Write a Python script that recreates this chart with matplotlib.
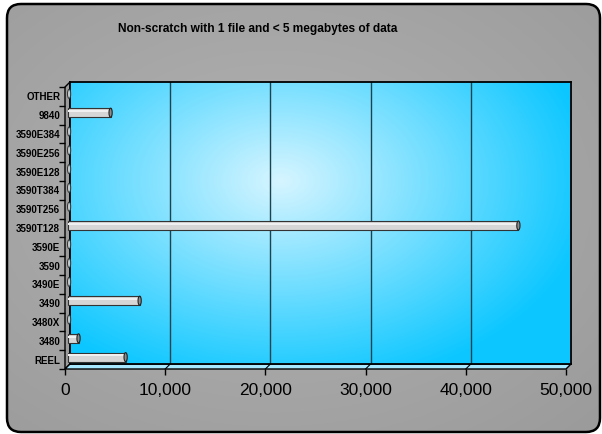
import numpy as np
import matplotlib
matplotlib.use("Agg")
import matplotlib.pyplot as plt
from matplotlib.patches import FancyBboxPatch, Polygon, Ellipse
from matplotlib.transforms import ScaledTranslation

plt.rcParams['font.family'] = ['Liberation Sans', 'DejaVu Sans']

title = "Non-scratch with 1 file and < 5 megabytes of data"
devices = ["REEL", "3480", "3480X", "3490", "3490E", "3590", "3590E",
           "3590T128", "3590T256", "3590T384", "3590E128", "3590E256",
           "3590E384", "9840", "OTHER"]
counts = [5800, 1100, 0, 7200, 0, 0, 0,
          45000, 0, 0, 0, 0, 0, 4300, 0]
xticks = [0, 10000, 20000, 30000, 40000, 50000]

W, H = 602, 434
fig = plt.figure(figsize=(W / 100, H / 100), dpi=100)
fig.patch.set_facecolor("white")

# pixel-space canvas for the panel, side wall and floor
bg = fig.add_axes([0, 0, 1, 1])
bg.set_xlim(0, W)
bg.set_ylim(H, 0)
bg.axis("off")

yy, xx = np.mgrid[0:1:200j, 0:1:200j]
r = np.sqrt((xx - 0.45) ** 2 + (yy - 0.45) ** 2)
g = np.clip(0.70 - 0.12 * r, 0.6, 0.72)
panel = FancyBboxPatch((7, 4), 593, 428, boxstyle="round,pad=0,rounding_size=14",
                       facecolor="none", edgecolor="black", lw=1.8, zorder=3)
img = bg.imshow(np.dstack([g, g, g]), extent=(7, 600, 432, 4), aspect="auto", zorder=1)
bg.add_patch(panel)
img.set_clip_path(panel)

# left side wall and floor of the 3-D plot box
bg.add_patch(Polygon([(65, 87), (70, 82), (70, 364), (65, 369)], closed=True,
                     facecolor="#9c9c9c", edgecolor="black", lw=1, zorder=2))
bg.add_patch(Polygon([(65, 369), (70, 364), (571, 364), (566, 369)], closed=True,
                     facecolor="#a8e8ff", edgecolor="black", lw=1, zorder=2))
for k in range(1, 5):
    bg.plot([65 + k * 100.2, 70 + k * 100.2], [369, 364], color="black", lw=0.8, zorder=2)

# back wall with radial blue gradient
wall = fig.add_axes([70 / W, 1 - 364 / H, 501 / W, 282 / H])
wall.set_xlim(0, 50000)
wall.set_ylim(0, 1)
r = np.sqrt(((xx - 0.42) * 1.2) ** 2 + (yy - 0.35) ** 2)
t = np.clip(r / 0.75, 0, 1)
inner = np.array([0.84, 0.96, 1.0])
outer = np.array([0.05, 0.78, 1.0])
cyan = inner[None, None, :] * (1 - t[..., None]) + outer[None, None, :] * t[..., None]
wall.imshow(cyan, extent=(0, 50000, 0, 1), aspect="auto", zorder=0)
for x in xticks[1:-1]:
    wall.axvline(x, color="#1c4450", lw=1, zorder=1)
wall.set_xticks([])
wall.set_yticks([])
for s in wall.spines.values():
    s.set_linewidth(1.3)

# front axes carrying the ticks, labels and bars
ax = fig.add_axes([65 / W, 1 - 369 / H, 501 / W, 282 / H])
ax.patch.set_visible(False)
ax.set_xlim(0, 50000)
ax.set_ylim(-0.5, len(devices) - 0.5)
for s in ax.spines.values():
    s.set_visible(False)

ax.set_xticks(xticks)
ax.set_xticklabels([f"{v:,}" for v in xticks], fontsize=12.5)
ax.tick_params(axis="x", direction="out", length=4, width=1, pad=6)
ax.set_yticks(np.arange(len(devices) + 1) - 0.5)
ax.set_yticklabels([])
ax.tick_params(axis="y", which="major", direction="out", length=4, width=1)
ax.set_yticks(np.arange(len(devices)), minor=True)
ax.set_yticklabels(devices, minor=True, fontsize=7, fontweight="bold")
ax.tick_params(axis="y", which="minor", length=0, pad=3.5)

# bars sit half-way into the box depth
mid = ax.transData + ScaledTranslation(2.5 / 100, 2.5 / 100, fig.dpi_scale_trans)
bh = 0.48
cap = 320
for i, v in enumerate(counts):
    if v > 0:
        ax.barh(i, v, height=bh, color="#d6d6d6", edgecolor="#333333", lw=0.8,
                transform=mid, zorder=3)
        ax.barh(i + bh * 0.18, v, height=bh * 0.22, color="#f0f0f0", lw=0,
                transform=mid, zorder=3)
        ax.add_patch(Ellipse((v, i), cap, bh, facecolor="#8c8c8c",
                             edgecolor="#222222", lw=0.8, transform=mid, zorder=4))
    else:
        ax.add_patch(Ellipse((cap / 2, i), cap, bh, facecolor="#c8c8c8",
                             edgecolor="#333333", lw=0.7, transform=mid, zorder=4))

fig.text(258 / W, 1 - 29 / H, title, ha="center", va="center",
         fontsize=8.6, fontweight="bold")

fig.savefig("out.png", dpi=100)
